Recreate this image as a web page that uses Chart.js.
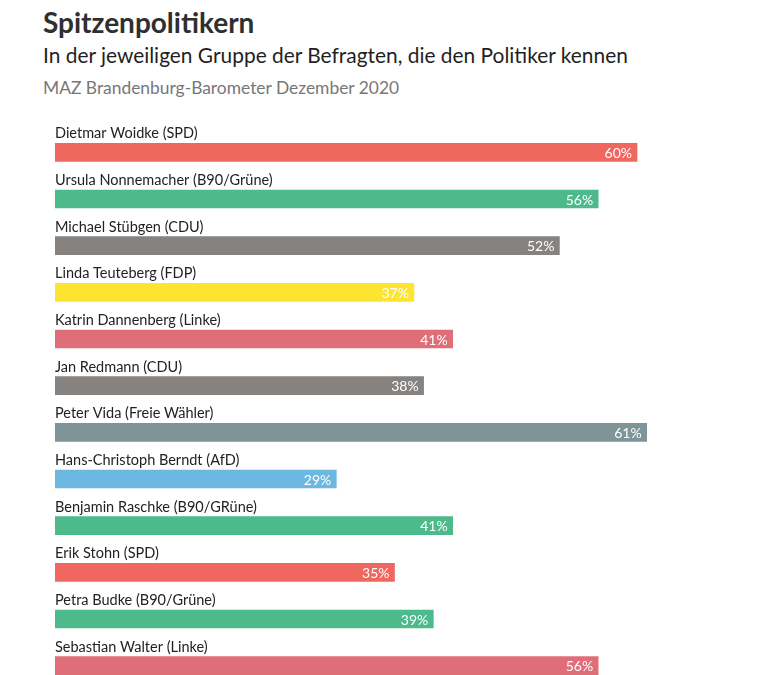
<!DOCTYPE html>
<html>
<head>
<meta charset="utf-8">
<script src="https://cdn.jsdelivr.net/npm/chart.js@4/dist/chart.umd.min.js"></script>
<style>
  html, body { margin: 0; padding: 0; background: #fff; overflow: hidden; width: 757px; height: 675px; }
  #wrap { position: absolute; left: 0; top: 0; width: 757px; height: 695px; }
  .t { position: absolute; left: 43px; white-space: nowrap; font-family: Lato, sans-serif; line-height: 1.2; margin: 0; }
  #title { top: 6px; font-size: 28px; font-weight: 700; color: #2f2f2f; }
  #subtitle { top: 42px; font-size: 20.9px; color: #1f1f1f; }
  #source { top: 78px; font-size: 17.4px; color: #777; }
</style>
</head>
<body>
<div id="title" class="t">Spitzenpolitikern</div>
<div id="subtitle" class="t">In der jeweiligen Gruppe der Befragten, die den Politiker kennen</div>
<div id="source" class="t">MAZ Brandenburg-Barometer Dezember 2020</div>
<div id="wrap"><canvas id="c" width="757" height="695"></canvas></div>
<script>
const politicians = [
  "Dietmar Woidke (SPD)",
  "Ursula Nonnemacher (B90/Grüne)",
  "Michael Stübgen (CDU)",
  "Linda Teuteberg (FDP)",
  "Katrin Dannenberg (Linke)",
  "Jan Redmann (CDU)",
  "Peter Vida (Freie Wähler)",
  "Hans-Christoph Berndt (AfD)",
  "Benjamin Raschke (B90/GRüne)",
  "Erik Stohn (SPD)",
  "Petra Budke (B90/Grüne)",
  "Sebastian Walter (Linke)"
];
const shares = [60, 56, 52, 37, 41, 38, 61, 29, 41, 35, 39, 56];
const parties = ["SPD","Grüne","CDU","FDP","Linke","CDU","FW","AfD","Grüne","SPD","Grüne","Linke"];
const partyColors = {
  SPD: "#f0675f",
  "Grüne": "#4cba8b",
  CDU: "#858280",
  FDP: "#fde431",
  Linke: "#e06e79",
  FW: "#7f9497",
  AfD: "#6cb8e0"
};

const labelPlugin = {
  id: "labels",
  afterDatasetsDraw(chart) {
    const ctx = chart.ctx;
    const meta = chart.getDatasetMeta(0);
    const xScale = chart.scales.x;
    ctx.save();
    meta.data.forEach((bar, i) => {
      const top = bar.y - bar.height / 2;
      ctx.font = "14.5px Lato, sans-serif";
      ctx.fillStyle = "#222222";
      ctx.textAlign = "left";
      ctx.textBaseline = "alphabetic";
      ctx.fillText(politicians[i], xScale.getPixelForValue(0), top - 5);
      ctx.font = "14px Lato, sans-serif";
      ctx.fillStyle = "#ffffff";
      ctx.textAlign = "right";
      ctx.textBaseline = "middle";
      ctx.fillText(shares[i] + "%", bar.x - 5, bar.y + 1);
    });
    ctx.restore();
  }
};

new Chart(document.getElementById("c"), {
  type: "bar",
  data: {
    labels: politicians,
    datasets: [{
      data: shares,
      backgroundColor: parties.map(p => partyColors[p]),
      borderWidth: 0,
      barThickness: 18
    }]
  },
  options: {
    indexAxis: "y",
    responsive: false,
    animation: false,
    devicePixelRatio: 1,
    layout: { padding: { left: 55, right: 23, top: 129, bottom: 6 } },
    plugins: { legend: { display: false }, tooltip: { enabled: false } },
    scales: {
      x: { display: false, min: 0, max: 70 },
      y: { display: false }
    }
  },
  plugins: [labelPlugin]
});
</script>
</body>
</html>
